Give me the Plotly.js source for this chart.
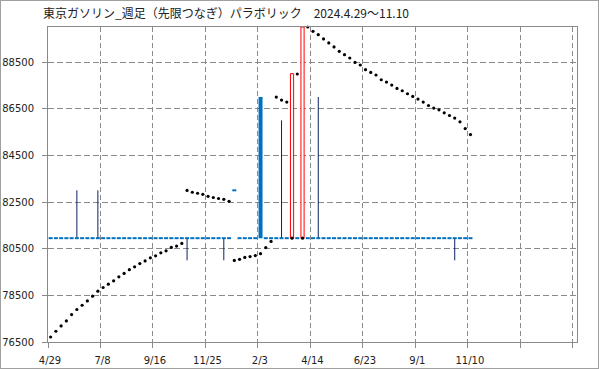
<!DOCTYPE html>
<html>
<head>
<meta charset="utf-8">
<script src="https://cdn.plot.ly/plotly-3.0.1.min.js"></script>
<style>
  html, body { margin: 0; padding: 0; background: #fff; }
  #chart { width: 597px; height: 367px; border: 1px solid #a0a0a0; }
</style>
</head>
<body>
<div id="chart"></div>
<script>
// Weekly candles, Tokyo gasoline (continuous), from week of 2024-04-29
const tickLabels = ['4/29', '7/8', '9/16', '11/25', '2/3', '4/14', '6/23', '9/1', '11/10', '', ''];
const yTicks = [76500, 78500, 80500, 82500, 84500, 86500, 88500];

const open = [
  80950,80950,80950,80950,80950,80950,80950,80950,80950,80950,
  80950,80950,80950,80950,80950,80950,80950,80950,80950,80950,
  80950,80950,80950,80950,80950,80950,80950,80950,80950,80950,
  80950,80950,80950,80950,80950,83000,80950,80950,80950,80950,
  87000,80950,80950,80950,80950,80950,80950,80950,80950,80950,
  80950,80950,80950,80950,80950,80950,80950,80950,80950,80950,
  80950,80950,80950,80950,80950,80950,80950,80950,80950,80950,
  80950,80950,80950,80950,80950,80950,80950,80950,80950,80950,
  80950
];
const high = [
  80950,80950,80950,80950,80950,83000,80950,80950,80950,83000,
  80950,80950,80950,80950,80950,80950,80950,80950,80950,80950,
  80950,80950,80950,80950,80950,80950,80950,80950,80950,80950,
  80950,80950,80950,80950,80950,83000,80950,80950,80950,80950,
  87000,80950,80950,80950,86000,80950,88000,80950,90000,80950,
  80950,87000,80950,80950,80950,80950,80950,80950,80950,80950,
  80950,80950,80950,80950,80950,80950,80950,80950,80950,80950,
  80950,80950,80950,80950,80950,80950,80950,80950,80950,80950,
  80950
];
const low = [
  80950,80950,80950,80950,80950,80950,80950,80950,80950,80950,
  80950,80950,80950,80950,80950,80950,80950,80950,80950,80950,
  80950,80950,80950,80950,80950,80950,80000,80950,80950,80950,
  80950,80950,80950,80000,80950,83000,80950,80950,80950,80950,
  80950,80950,80950,80950,80950,80950,80950,80950,80950,80950,
  80950,80950,80950,80950,80950,80950,80950,80950,80950,80950,
  80950,80950,80950,80950,80950,80950,80950,80950,80950,80950,
  80950,80950,80950,80950,80950,80950,80950,80000,80950,80950,
  80950
];
const close = [
  80950,80950,80950,80950,80950,80950,80950,80950,80950,80950,
  80950,80950,80950,80950,80950,80950,80950,80950,80950,80950,
  80950,80950,80950,80950,80950,80950,80950,80950,80950,80950,
  80950,80950,80950,80950,80950,83000,80950,80950,80950,80950,
  80950,80950,80950,80950,80950,80950,88000,80950,90000,80950,
  80950,80950,80950,80950,80950,80950,80950,80950,80950,80950,
  80950,80950,80950,80950,80950,80950,80950,80950,80950,80950,
  80950,80950,80950,80950,80950,80950,80950,80950,80950,80950,
  80950
];
const sar = [
  76715,76960,77187,77402,77677,77892,78076,78261,78463,78678,
  78836,78978,79120,79292,79438,79601,79721,79859,79975,80108,
  80194,80323,80408,80554,80610,80726,82994,82917,82874,82831,
  82745,82693,82650,82616,82530,79996,80043,80125,80159,80202,
  80284,80546,80812,86997,86868,86782,80950,87985,80950,90000,
  89815,89673,89488,89316,89145,88956,88814,88672,88483,88371,
  88170,88054,87942,87740,87641,87512,87366,87268,87139,87023,
  86911,86782,86636,86525,86452,86323,86207,86095,85936,85648,
  85391
];

const idx = open.map((_, i) => i);
const HALF = 0.38;

// flat (doji) bodies
const flatX = [], flatY = [];
// wicks
const wickX = [], wickY = [];
// down / up bodies
const downX = [], downBase = [], downLen = [];
const upX = [], upBase = [], upLen = [];

idx.forEach(i => {
  const o = open[i], c = close[i], h = high[i], l = low[i];
  const top = Math.max(o, c), bot = Math.min(o, c);
  if (h > top) { wickX.push(i, i, null); wickY.push(top, h, null); }
  if (l < bot) { wickX.push(i, i, null); wickY.push(bot, l, null); }
  if (o === c) { flatX.push(i - HALF, i + HALF, null); flatY.push(o, o, null); }
  else if (c < o) { downX.push(i); downBase.push(c); downLen.push(o - c); }
  else { upX.push(i); upBase.push(o); upLen.push(c - o); }
});

const traces = [
  { type: 'scatter', mode: 'lines', x: wickX, y: wickY,
    line: { color: '#0b2266', width: 1 }, hoverinfo: 'skip', showlegend: false },
  { type: 'scatter', mode: 'lines', x: flatX, y: flatY,
    line: { color: '#0070c0', width: 2 }, hoverinfo: 'skip', showlegend: false },
  { type: 'bar', x: downX, base: downBase, y: downLen, width: 0.76,
    marker: { color: '#0070c0', line: { width: 0 } }, showlegend: false },
  { type: 'bar', x: upX, base: upBase, y: upLen, width: 0.6,
    marker: { color: '#ffffff', line: { color: '#ff0000', width: 1 } }, showlegend: false },
  { type: 'scatter', mode: 'markers', x: idx, y: sar, cliponaxis: false,
    marker: { color: '#000000', size: 3.2, symbol: 'circle' }, showlegend: false }
];

const tickFont = { family: 'DejaVu Sans, sans-serif', size: 10, color: '#222222' };
const gridCol = '#8a8a8a';

const layout = {
  width: 597, height: 367,
  margin: { l: 47, r: 21, t: 26, b: 26, pad: 0 },
  paper_bgcolor: '#ffffff', plot_bgcolor: '#ffffff',
  barmode: 'overlay',
  showlegend: false,
  title: {
    text: '東京ガソリン_週足（先限つなぎ）パラボリック　2024.4.29～11.10',
    font: { family: 'Noto Sans CJK JP, sans-serif', size: 12, color: '#222222' },
    xref: 'container', yref: 'container', x: 42 / 597, xanchor: 'left',
    y: 1 - 13 / 367, yanchor: 'middle'
  },
  xaxis: {
    type: 'linear', range: [-0.5, 100.3],
    tickmode: 'array',
    tickvals: tickLabels.map((_, k) => -0.5 + 10 * k),
    ticktext: tickLabels,
    showgrid: true, gridcolor: gridCol, griddash: '5px,3px', gridwidth: 1,
    showline: true, linecolor: gridCol, linewidth: 1, mirror: true,
    ticks: 'outside', ticklen: 5, tickcolor: gridCol, tickwidth: 1,
    zeroline: false, tickfont: tickFont, ticklabelshift: 2, ticklabelstandoff: 4
  },
  yaxis: {
    type: 'linear', range: [76500, 90000],
    tickmode: 'array', tickvals: yTicks, ticktext: yTicks.map(String),
    showgrid: true, gridcolor: gridCol, griddash: '6px,3px', gridwidth: 1,
    showline: true, linecolor: gridCol, linewidth: 1, mirror: true,
    ticks: 'outside', ticklen: 5, tickcolor: gridCol, tickwidth: 1,
    zeroline: false, tickfont: tickFont, ticklabelstandoff: 6
  }
};

Plotly.newPlot('chart', traces, layout, { displayModeBar: false, staticPlot: true });
</script>
</body>
</html>
